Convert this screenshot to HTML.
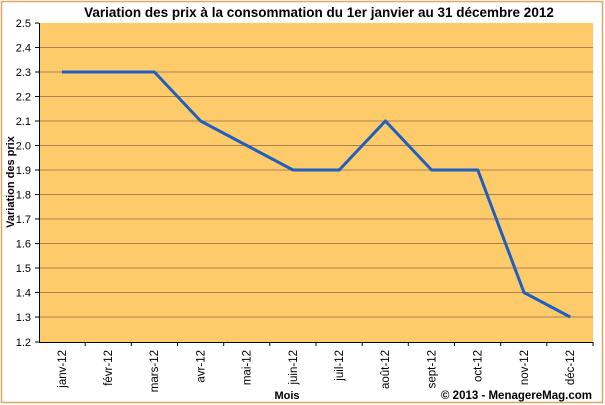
<!DOCTYPE html>
<html><head><meta charset="utf-8"><style>
body{margin:0;background:#fff}
svg{display:block;font-family:"Liberation Sans",sans-serif}
</style></head><body>
<svg width="605" height="405" viewBox="0 0 605 405">
<rect x="1.5" y="1.5" width="601" height="401" fill="#fff" stroke="#D9A868" stroke-width="1.5"/>
<text x="319" y="17" font-size="13.5" font-weight="bold" text-anchor="middle">Variation des prix à la consommation du 1er janvier au 31 décembre 2012</text>
<rect x="39" y="23" width="554" height="319" fill="#FECB6A"/>
<g stroke="#A98152" stroke-width="1">
<line x1="39" x2="593" y1="47.5" y2="47.5"/><line x1="39" x2="593" y1="72" y2="72"/>
<line x1="39" x2="593" y1="96.5" y2="96.5"/><line x1="39" x2="593" y1="121" y2="121"/>
<line x1="39" x2="593" y1="145.5" y2="145.5"/><line x1="39" x2="593" y1="170" y2="170"/>
<line x1="39" x2="593" y1="194.5" y2="194.5"/><line x1="39" x2="593" y1="219" y2="219"/>
<line x1="39" x2="593" y1="243.5" y2="243.5"/><line x1="39" x2="593" y1="268" y2="268"/>
<line x1="39" x2="593" y1="292.5" y2="292.5"/><line x1="39" x2="593" y1="317" y2="317"/>
</g>
<g stroke="#000" stroke-width="1">
<line x1="39.5" y1="23" x2="39.5" y2="342"/>
<line x1="39" y1="342.5" x2="593" y2="342.5"/>
<line x1="35" x2="39" y1="23" y2="23"/><line x1="35" x2="39" y1="47.5" y2="47.5"/><line x1="35" x2="39" y1="72" y2="72"/><line x1="35" x2="39" y1="96.5" y2="96.5"/><line x1="35" x2="39" y1="121" y2="121"/><line x1="35" x2="39" y1="145.5" y2="145.5"/><line x1="35" x2="39" y1="170" y2="170"/><line x1="35" x2="39" y1="194.5" y2="194.5"/><line x1="35" x2="39" y1="219" y2="219"/><line x1="35" x2="39" y1="243.5" y2="243.5"/><line x1="35" x2="39" y1="268" y2="268"/><line x1="35" x2="39" y1="292.5" y2="292.5"/><line x1="35" x2="39" y1="317" y2="317"/><line x1="35" x2="39" y1="342" y2="342"/>
<line x1="85.2" x2="85.2" y1="342" y2="346"/><line x1="131.3" x2="131.3" y1="342" y2="346"/><line x1="177.5" x2="177.5" y1="342" y2="346"/><line x1="223.7" x2="223.7" y1="342" y2="346"/><line x1="269.8" x2="269.8" y1="342" y2="346"/><line x1="316" x2="316" y1="342" y2="346"/><line x1="362.2" x2="362.2" y1="342" y2="346"/><line x1="408.3" x2="408.3" y1="342" y2="346"/><line x1="454.5" x2="454.5" y1="342" y2="346"/><line x1="500.7" x2="500.7" y1="342" y2="346"/><line x1="546.8" x2="546.8" y1="342" y2="346"/><line x1="593" x2="593" y1="342" y2="346"/>
</g>
<g font-size="11" text-anchor="end">
<text x="31" y="27">2.5</text><text x="31" y="51.5">2.4</text><text x="31" y="76">2.3</text><text x="31" y="100.5">2.2</text><text x="31" y="125">2.1</text><text x="31" y="149.5">2.0</text><text x="31" y="174">1.9</text><text x="31" y="198.5">1.8</text><text x="31" y="223">1.7</text><text x="31" y="247.5">1.6</text><text x="31" y="272">1.5</text><text x="31" y="296.5">1.4</text><text x="31" y="321">1.3</text><text x="31" y="346">1.2</text>
</g>
<g font-size="11.5" text-anchor="end">
<text transform="translate(66,350) rotate(-90)">janv-12</text>
<text transform="translate(112,350) rotate(-90)">févr-12</text>
<text transform="translate(158,350) rotate(-90)">mars-12</text>
<text transform="translate(204.5,350) rotate(-90)">avr-12</text>
<text transform="translate(250.5,350) rotate(-90)">mai-12</text>
<text transform="translate(297,350) rotate(-90)">juin-12</text>
<text transform="translate(343,350) rotate(-90)">juil-12</text>
<text transform="translate(389,350) rotate(-90)">août-12</text>
<text transform="translate(435.5,350) rotate(-90)">sept-12</text>
<text transform="translate(481.5,350) rotate(-90)">oct-12</text>
<text transform="translate(528,350) rotate(-90)">nov-12</text>
<text transform="translate(574,350) rotate(-90)">déc-12</text>
</g>
<text transform="translate(14,182) rotate(-90)" font-size="11" font-weight="bold" text-anchor="middle">Variation des prix</text>
<text x="287" y="399" font-size="11" font-weight="bold" text-anchor="middle">Mois</text>
<text x="592" y="399" font-size="11.5" font-weight="bold" text-anchor="end">© 2013 - MenagereMag.com</text>
<polyline fill="none" stroke="#1F5FBF" stroke-width="3" stroke-linejoin="round" points="62,72 108.2,72 154.4,72 200.6,121 246.8,145.5 293,170 339.2,170 385.4,121 431.6,170 477.8,170 524,292.5 570.2,317"/>
</svg>
</body></html>
